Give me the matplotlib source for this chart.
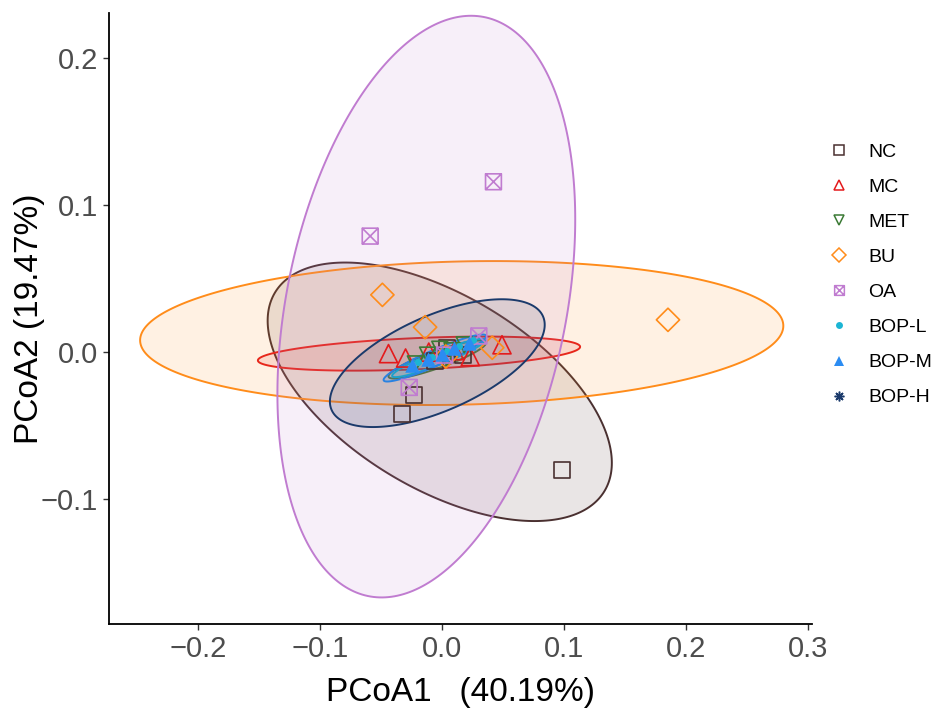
import numpy as np
import matplotlib
matplotlib.use("Agg")
import matplotlib.pyplot as plt
from matplotlib.path import Path
from matplotlib.lines import Line2D
from matplotlib.colors import to_rgba

plt.rcParams['font.family'] = ['Liberation Sans', 'DejaVu Sans']

groups = ["NC", "MC", "MET", "BU", "OA", "BOP-L", "BOP-M", "BOP-H"]
colors = ["#4A3030", "#E41A1C", "#3B7A35", "#FF8C1A", "#C07CD0", "#1CB5D4", "#2B8CF2", "#1B3A6B"]

# sample scores (PCoA1, PCoA2)
pts_x = {
    "NC": [0.098, -0.033, -0.023, 0.017, 0.004, -0.006],
    "MC": [-0.044, 0.049, 0.023, -0.011, -0.030, 0.010],
    "MET": [-0.012, -0.002, 0.008, 0.018, -0.022, 0.004],
    "BU": [-0.049, -0.014, 0.185, 0.041, 0.003],
    "OA": [-0.059, 0.042, 0.030, -0.027, 0.002],
    "BOP-L": [-0.020, -0.008, 0.004, 0.014, 0.025],
    "BOP-M": [-0.025, -0.012, 0.000, 0.010, 0.022],
    "BOP-H": [-0.032, 0.035, -0.026, 0.010, -0.005],
}
pts_y = {
    "NC": [-0.080, -0.042, -0.029, -0.002, 0.003, -0.006],
    "MC": [-0.001, 0.005, -0.003, 0.000, -0.004, 0.001],
    "MET": [-0.002, 0.002, 0.001, 0.005, -0.008, -0.004],
    "BU": [0.039, 0.017, 0.022, 0.003, -0.003],
    "OA": [0.079, 0.116, 0.011, -0.024, -0.002],
    "BOP-L": [-0.007, -0.003, 0.001, 0.004, 0.008],
    "BOP-M": [-0.009, -0.005, -0.001, 0.003, 0.006],
    "BOP-H": [0.004, -0.001, -0.036, 0.000, -0.002],
}

# ellipse per group: centre, spread in x / y, correlation
ell_cx = [-0.002, -0.019, -0.004, 0.016, -0.013, -0.003, -0.006, -0.004]
ell_cy = [-0.027, -0.001, -0.005, 0.013, 0.031, -0.004, -0.004, -0.0075]
ell_sx = [0.141, 0.132, 0.040, 0.2635, 0.122, 0.038, 0.042, 0.088]
ell_sy = [0.088, 0.0116, 0.013, 0.049, 0.198, 0.013, 0.016, 0.0435]
ell_r = [-0.55, 0.4, 0.88, 0.1, 0.3, 0.93, 0.93, 0.6]

box_x = Path([(-1, -1), (1, -1), (1, 1), (-1, 1), (-1, -1), (-1, -1), (1, 1), (-1, 1), (1, -1)],
             [Path.MOVETO, Path.LINETO, Path.LINETO, Path.LINETO, Path.CLOSEPOLY,
              Path.MOVETO, Path.LINETO, Path.MOVETO, Path.LINETO])
markers = ["s", "^", "v", "D", box_x, "o", "^", (8, 2, 0)]
sizes = [130, 170, 130, 140, 130, 25, 110, 170]
filled = [False, False, False, False, False, True, True, False]

fig = plt.figure(figsize=(9.42, 7.13), dpi=100)
ax = fig.add_axes([0.1157, 0.125, 0.7463, 0.857])

t = np.linspace(0, 2 * np.pi, 300)
for i, g in enumerate(groups):
    cov = np.array([[ell_sx[i] ** 2, ell_r[i] * ell_sx[i] * ell_sy[i]],
                    [ell_r[i] * ell_sx[i] * ell_sy[i], ell_sy[i] ** 2]])
    L = np.linalg.cholesky(cov)
    xy = L @ np.vstack([np.cos(t), np.sin(t)])
    ax.fill(ell_cx[i] + xy[0], ell_cy[i] + xy[1], facecolor=to_rgba(colors[i], 0.12),
            edgecolor=colors[i], linewidth=1.4, zorder=1)

for i, g in enumerate(groups):
    if filled[i]:
        ax.scatter(pts_x[g], pts_y[g], marker=markers[i], s=sizes[i], color=colors[i],
                   linewidths=0, zorder=3)
    else:
        ax.scatter(pts_x[g], pts_y[g], marker=markers[i], s=sizes[i], facecolors="none",
                   edgecolors=colors[i], linewidths=1.2, zorder=3)

ax.set_xlim(-0.273, 0.303)
ax.set_ylim(-0.185, 0.231)
ax.set_xticks([-0.2, -0.1, 0.0, 0.1, 0.2, 0.3])
ax.set_yticks([-0.1, 0.0, 0.1, 0.2])
ax.set_xticklabels(["\u22120.2", "\u22120.1", "0.0", "0.1", "0.2", "0.3"])
ax.set_yticklabels(["\u22120.1", "0.0", "0.1", "0.2"])
ax.tick_params(labelsize=21, labelcolor="#4D4D4D", color="#333333", length=4, width=1, pad=4)
for s in ["top", "right"]:
    ax.spines[s].set_visible(False)
for s in ["left", "bottom"]:
    ax.spines[s].set_linewidth(1.3)
ax.set_xlabel("PCoA1   (40.19%)", fontsize=24, labelpad=10)
ax.set_ylabel("PCoA2 (19.47%)", fontsize=24)
ax.yaxis.set_label_coords(-0.091, 0.5)

handles = []
for i, g in enumerate(groups):
    if filled[i]:
        h = Line2D([], [], linestyle="none", marker=markers[i], markersize=7 if i == 6 else 5,
                   color=colors[i], markeredgewidth=0)
    else:
        h = Line2D([], [], linestyle="none", marker=markers[i], markersize=7,
                   markerfacecolor="none", markeredgecolor=colors[i], markeredgewidth=1.1)
    handles.append(h)
ax.legend(handles, groups, loc="upper left", bbox_to_anchor=(0.870, 0.813),
          bbox_transform=fig.transFigure, frameon=False, fontsize=14,
          labelspacing=0.9, handletextpad=1.0, handlelength=1.0, borderpad=0)

fig.savefig("out.png", dpi=100)
